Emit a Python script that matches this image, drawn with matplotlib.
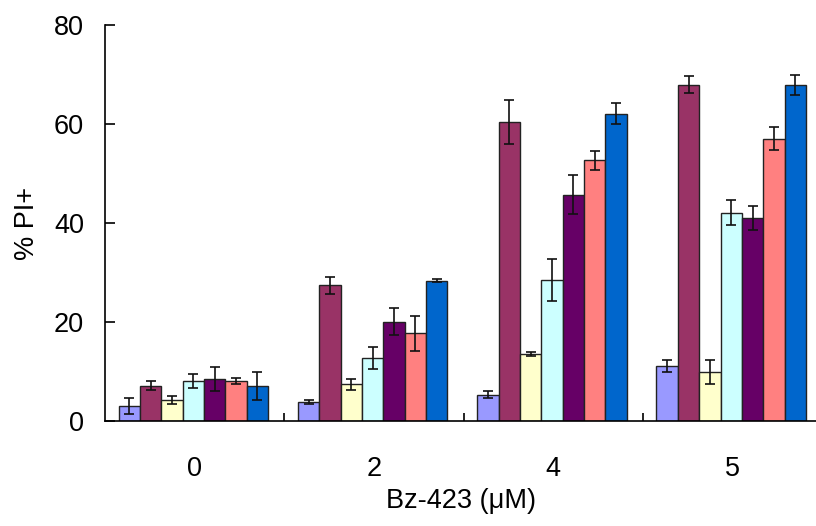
import matplotlib; matplotlib.use('Agg')
import matplotlib.pyplot as plt
import numpy as np

plt.rcParams['font.family'] = ['Liberation Sans', 'DejaVu Sans']

# ---------- data ----------
groups = ['0', '2', '4', '5']
colors = ['#9999FF', '#993366', '#FFFFCC', '#CCFFFF', '#660066', '#FF8080', '#0066CC']
# one list per series (7 series), values per group
means = [
    [3.0, 3.8, 5.3, 11.1],
    [7.1, 27.4, 60.4, 67.9],
    [4.2, 7.4, 13.5, 9.9],
    [8.0, 12.7, 28.5, 42.1],
    [8.5, 20.1, 45.7, 41.0],
    [8.0, 17.7, 52.7, 57.0],
    [7.1, 28.3, 62.1, 67.9],
]
errs = [
    [1.6, 0.4, 0.7, 1.3],
    [0.9, 1.7, 4.4, 1.7],
    [0.8, 1.1, 0.4, 2.5],
    [1.4, 2.2, 4.2, 2.5],
    [2.5, 2.8, 3.9, 2.5],
    [0.6, 3.5, 1.9, 2.3],
    [2.9, 0.3, 2.2, 2.0],
]

fig = plt.figure(figsize=(8.16, 5.26), dpi=100)
ax = fig.add_axes([105/816, 105/526, 1 - 105/816, 396/526])

x = np.arange(len(groups))
n = len(means)
w = 0.119
for i, (m, e, c) in enumerate(zip(means, errs, colors)):
    pos = x + (i - (n - 1) / 2) * w - 0.008
    ax.bar(pos, m, width=w, color=c, edgecolor='#222222', linewidth=1.0, zorder=2)
    ax.errorbar(pos, m, yerr=e, fmt='none', ecolor='#111111', elinewidth=1.2,
                capsize=3.6, capthick=1.2, zorder=3)

ax.set_xlim(-0.5, 3.465)
ax.set_ylim(0, 80)
ax.set_yticks([0, 20, 40, 60, 80])
ax.set_xticks(x)
ax.set_xticklabels(groups)
ax.set_xticks(np.arange(0.5, 3.5, 1), minor=True)

for s in ['top', 'right']:
    ax.spines[s].set_visible(False)
ax.spines['left'].set_linewidth(1.2)
ax.spines['bottom'].set_linewidth(1.2)

ax.tick_params(axis='y', direction='in', length=7, width=1.2, pad=15, labelsize=19.5)
ax.tick_params(axis='x', which='major', length=0, pad=25, labelsize=19.5)
ax.tick_params(axis='x', which='minor', direction='in', length=6, width=1.2)

ax.set_ylabel('% PI+', fontsize=19.5)
ax.yaxis.set_label_coords(-0.092, 0.5)
ax.set_xlabel('Bz-423 (μM)', fontsize=19.5)
ax.xaxis.set_label_coords(0.5, -0.17)

plt.savefig('out.png', dpi=100)
